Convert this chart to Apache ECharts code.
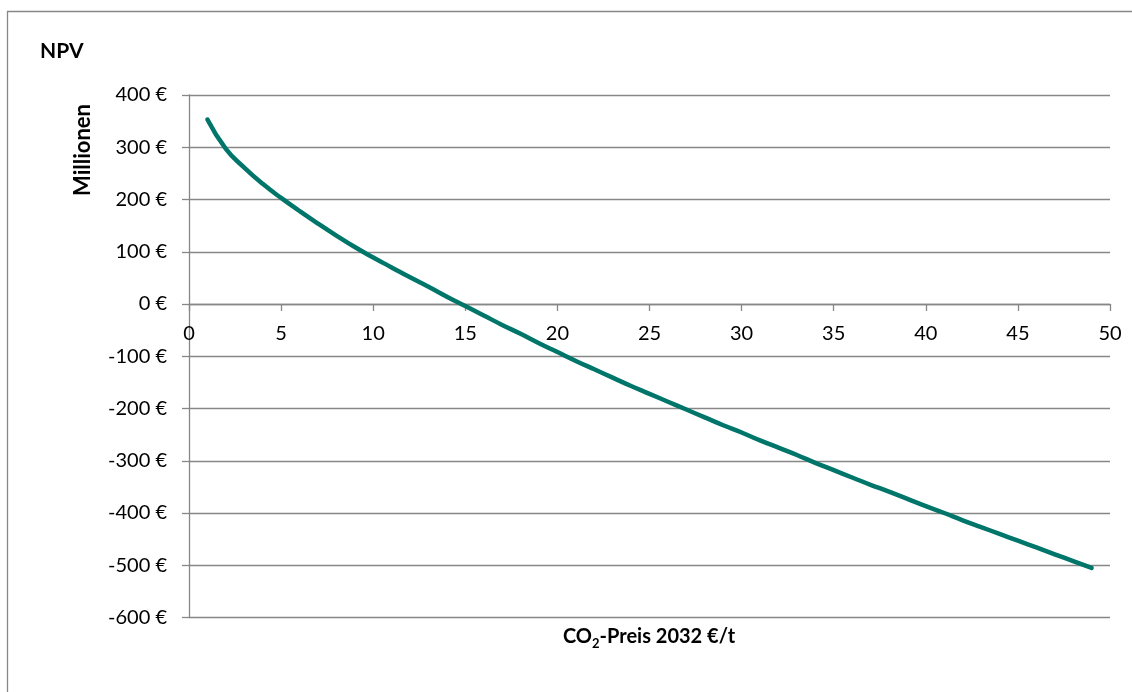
<!DOCTYPE html>
<html><head><meta charset="utf-8">
<script src="https://cdn.jsdelivr.net/npm/echarts@6/dist/echarts.min.js"></script>
<style>html,body{margin:0;padding:0;background:#fff}#c{width:1132px;height:692px}</style>
</head><body><div id="c"></div>
<script>
const co2Price = [1,2,3,4,5,6,7,8,9,10,11,12,13,14,15,16,17,18,19,20,21,22,23,24,25,26,27,28,29,30,31,32,33,34,35,36,37,38,39,40,41,42,43,44,45,46,47,48,49];
const npvMillions = [353,297,261,230,203,178,154,131,109,89,70,51,33,14,-4,-22,-40,-57,-75,-92,-109,-125,-141,-157,-172,-187,-202,-217,-232,-246,-261,-275,-289,-304,-318,-332,-346,-359,-373,-387,-400,-414,-427,-440,-453,-466,-479,-492,-505];
const yTitle = 'NPV';
const yUnit = 'Millionen';

const FONT = 'Lato';
const GRAY = '#878787';
const Y_MIN = -600, Y_MAX = 400;
const GRID_TOP = 95, GRID_BOTTOM = 74.5, H = 692;
const plotH = H - GRID_TOP - GRID_BOTTOM;
// move the x axis up from the grid bottom to the y = 0 line
const xAxisOffset = -plotH * (0 - Y_MIN) / (Y_MAX - Y_MIN);

const chart = echarts.init(document.getElementById('c'));
chart.setOption({
  animation: false,
  backgroundColor: '#fff',
  grid: {left: 189, right: 22, top: GRID_TOP, bottom: GRID_BOTTOM},
  xAxis: {
    type: 'value', min: 0, max: 50, interval: 5,
    offset: xAxisOffset,
    axisLine: {onZero: false, lineStyle: {color: GRAY, width: 1.3}},
    axisTick: {show: true, length: 7, lineStyle: {color: GRAY, width: 1.3}},
    axisLabel: {margin: 20, fontFamily: FONT, fontSize: 20, color: '#000'},
    splitLine: {show: false}
  },
  yAxis: {
    type: 'value', min: Y_MIN, max: Y_MAX, interval: 100,
    axisLine: {show: true, onZero: false, lineStyle: {color: GRAY, width: 1.3}},
    axisTick: {show: true, length: 7, lineStyle: {color: GRAY, width: 1.3}},
    axisLabel: {margin: 22, fontFamily: FONT, fontSize: 20, color: '#000', formatter: v => v + ' €'},
    splitLine: {show: true, lineStyle: {color: GRAY, width: 1.3}}
  },
  series: [{
    type: 'line', data: co2Price.map((x, i) => [x, npvMillions[i]]),
    smooth: 0.5, showSymbol: false,
    lineStyle: {color: '#00766B', width: 4.5, cap: 'round', join: 'round'}
  }],
  graphic: [
    {type: 'rect', silent: true, shape: {x: 7.5, y: 11.5, width: 3000, height: 3000}, style: {fill: 'none', stroke: GRAY, lineWidth: 1.3}},
    {type: 'text', left: 40, top: 41, style: {text: yTitle, font: 'bold 21px ' + FONT, fill: '#000'}},
    {type: 'text', x: 83, y: 150, rotation: Math.PI / 2, style: {text: yUnit, font: 'bold 22px ' + FONT, fill: '#000', align: 'center', verticalAlign: 'middle'}},
    {type: 'text', x: 649, y: 637, style: {
      text: '{a|CO}{s|2}{a|-Preis 2032 €/t}', align: 'center', verticalAlign: 'middle',
      rich: {
        a: {fontFamily: FONT, fontWeight: 'bold', fontSize: 20, fill: '#000', lineHeight: 22, verticalAlign: 'middle'},
        s: {fontFamily: FONT, fontWeight: 'bold', fontSize: 13, fill: '#000', lineHeight: 26, verticalAlign: 'bottom'}
      }
    }}
  ]
});
</script></body></html>
